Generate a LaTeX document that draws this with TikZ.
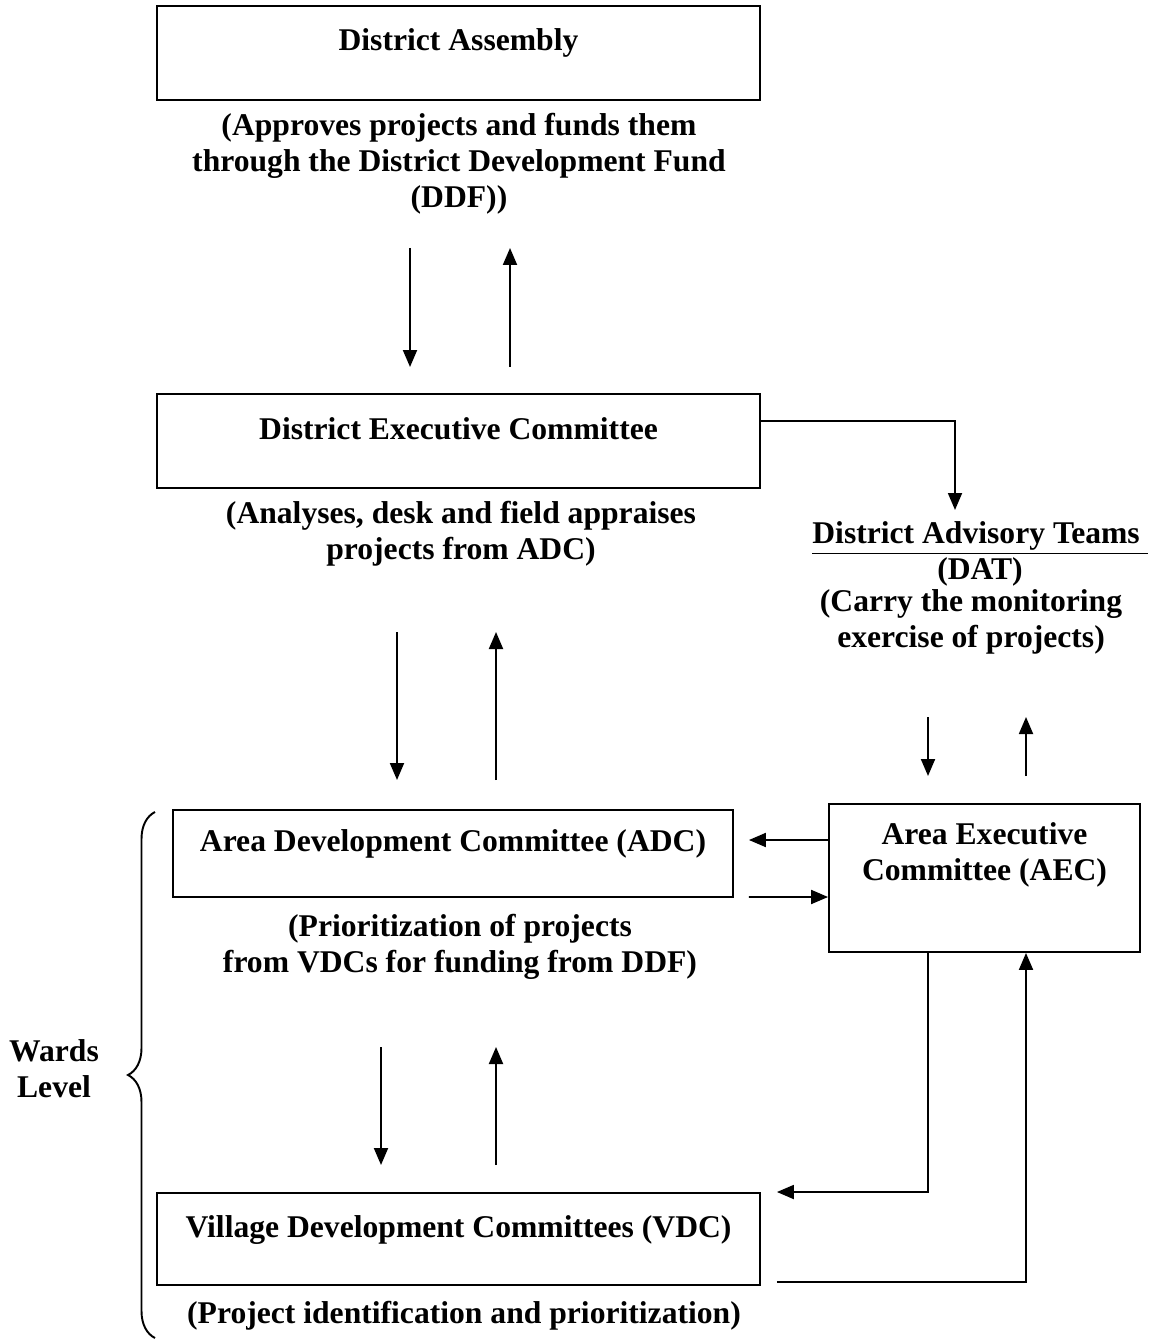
\documentclass[tikz,border=0pt]{standalone}
\usepackage{fontspec}
\setmainfont{Liberation Serif}
\usetikzlibrary{arrows.meta,positioning,decorations.pathreplacing}

\begin{document}
\begin{tikzpicture}[x=0.02cm,y=-0.02cm,
    every node/.style={font=\fontsize{18}{20.5}\selectfont\bfseries},
    unit/.style={draw,line width=1.1pt,minimum height=1.88cm,inner sep=0pt,
                 text height=0.5cm,text depth=0.58cm},
    note/.style={align=center,inner sep=0pt},
    arr/.style={-{Triangle[length=3.4mm,width=2.8mm]},line width=1.1pt}]
  \useasboundingbox (0,0) rectangle (1161,1344);

  % boxes and their notes
  \node[unit,minimum width=12.06cm] (da) at (458.5,53) {District Assembly};
  \node[note] (dadesc) at (459,164) {(Approves projects and funds them\\through the District Development Fund\\(DDF))};
  \node[unit,minimum width=12.06cm] (dec) at (458.5,441) {District Executive Committee};
  \node[note] (decdesc) at (461,533.5) {(Analyses, desk and field appraises\\projects from ADC)};
  \node[note] (dat) at (980,554) {\underline{District Advisory Teams\ }\\(DAT)};
  \node[note] (datdesc) at (971,622) {(Carry the monitoring\\exercise of projects)};
  \node[unit,minimum width=11.2cm,minimum height=1.74cm] (adc) at (453,853.5) {Area Development Committee (ADC)};
  \node[unit,minimum width=6.22cm,minimum height=2.96cm,text height=,text depth=,
        label={[note,yshift=0.46cm]center:{Area Executive\\Committee (AEC)}}] (aec) at (984.5,878) {};
  \node[note] (adcdesc) at (460,947) {(Prioritization of projects\\from VDCs for funding from DDF)};
  \node[unit,minimum width=12.06cm,minimum height=1.84cm] (vdc) at (458.5,1239) {Village Development Committees (VDC)};
  \node[note] (vdcdesc) at (464,1316) {(Project identification and prioritization)};
  \node[note] (wards) at (54,1069) {Wards\\Level};

  % arrow ends between the levels
  \coordinate (a1) at (410,248); \coordinate (a2) at (410,367);
  \coordinate (b1) at (510,367); \coordinate (b2) at (510,248);
  \coordinate (c1) at (397,632); \coordinate (c2) at (397,780);
  \coordinate (d1) at (496,780); \coordinate (d2) at (496,632);
  \coordinate (e1) at (381,1047); \coordinate (e2) at (381,1165);
  \coordinate (f1) at (496,1165); \coordinate (f2) at (496,1047);
  \coordinate (g1) at (928,717); \coordinate (g2) at (928,776);
  \coordinate (h1) at (1026,776); \coordinate (h2) at (1026,717);
  \coordinate (datin) at (955,510);

  \draw[arr] (a1) -- (a2);
  \draw[arr] (b1) -- (b2);
  \draw[arr] (c1) -- (c2);
  \draw[arr] (d1) -- (d2);
  \draw[arr] (e1) -- (e2);
  \draw[arr] (f1) -- (f2);
  \draw[arr] (g1) -- (g2);
  \draw[arr] (h1) -- (h2);

  \draw[arr] ([yshift=0.4cm]dec.east) -| (datin);
  \draw[arr] ([yshift=0.76cm]aec.west) -- ([xshift=0.3cm,yshift=0.27cm]adc.east);
  \draw[arr] ([xshift=0.3cm,yshift=-0.87cm]adc.east) -- ([yshift=-0.38cm]aec.west);
  \draw[arr] ([xshift=-1.13cm]aec.south) |- ([xshift=0.32cm,yshift=0.94cm]vdc.east);
  \draw[arr] ([xshift=0.32cm,yshift=-0.86cm]vdc.east) -| ([xshift=0.83cm]aec.south);

  \draw[line width=1.1pt,decorate,decoration={brace,amplitude=0.54cm}]
    (155,1338) -- (155,812);
\end{tikzpicture}
\end{document}
